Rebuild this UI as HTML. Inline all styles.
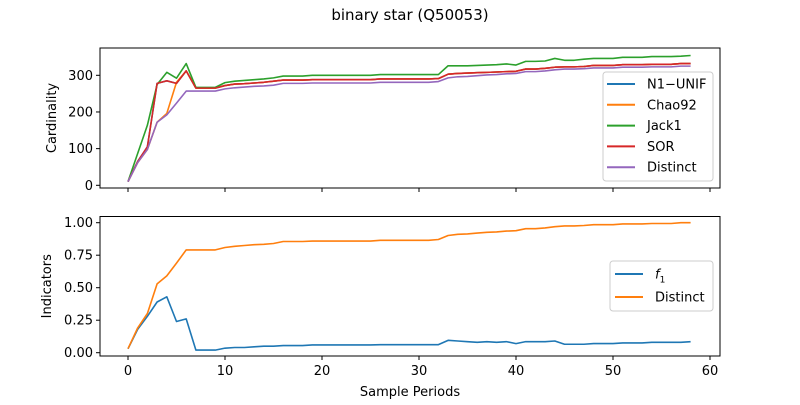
<!DOCTYPE html>
<html><head><meta charset="utf-8"><style>
body{margin:0;background:#fff;font-family:"Liberation Sans","DejaVu Sans",sans-serif;}
svg text{font-family:"DejaVu Sans","Liberation Sans",sans-serif;font-size:13px;fill:#000;}
</style></head><body>
<svg id="chart" width="800" height="400" viewBox="0 0 800 400">
<rect width="800" height="400" fill="#fff"/>
<text x="410" y="20" text-anchor="middle" style="font-size:15px">binary star (Q50053)</text>
<g id="top"></g><g id="bot"></g>
</svg>
<script>
const periods = Array.from({length:59},(_,i)=>i);
const distinct = [10,62,98,172,192,224,257,257,257,257,263,266,268,270,271,273,278,278,278,279,279,279,279,279,279,279,281,281,281,281,281,281,283,293,296,297,299,301,302,304,305,310,310,312,315,317,317,318,320,320,320,322,322,322,323,323,323,325,325];
const sor = [10,65,105,278,285,278,312,265,265,265,272,276,277,279,281,284,287,287,287,288,288,288,288,288,288,288,290,290,290,290,290,290,291,303,305,306,307,308,309,310,311,317,317,319,322,323,323,324,327,327,327,329,329,329,330,330,330,332,332];
const n1unif = sor.slice();
const chao92 = [10,62,98,172,196,281,312,265,265,265,272,276,277,279,281,284,287,287,287,288,288,288,288,288,288,288,290,290,290,290,290,290,291,303,305,306,307,308,309,310,311,317,317,319,322,323,323,324,327,327,327,329,329,329,330,330,330,332,332];
const jack1 = [10,87,164,275,308,292,332,267,267,267,280,284,286,288,290,293,298,298,298,300,300,300,300,300,300,300,302,302,302,302,302,302,302,326,326,326,327,328,329,331,328,338,338,339,346,341,341,344,346,346,346,349,349,349,351,351,351,352,354];
const f1 = [0.03,0.18,0.28,0.39,0.43,0.24,0.26,0.02,0.02,0.02,0.035,0.04,0.04,0.045,0.05,0.05,0.055,0.055,0.055,0.06,0.06,0.06,0.06,0.06,0.06,0.06,0.062,0.062,0.062,0.062,0.062,0.062,0.062,0.095,0.09,0.085,0.08,0.085,0.08,0.085,0.07,0.085,0.085,0.085,0.09,0.065,0.065,0.065,0.07,0.07,0.07,0.075,0.075,0.075,0.08,0.08,0.08,0.08,0.085];
const distinctFrac = distinct.map(v=>v/Math.max(...distinct));
const xTicks = [0,10,20,30,40,50,60];
const topTicks = [0,100,200,300];
const botTicks = ["0.00","0.25","0.50","0.75","1.00"];

const NS="http://www.w3.org/2000/svg";
function el(parent,tag,attrs,text){const e=document.createElementNS(NS,tag);for(const k in attrs)e.setAttribute(k,attrs[k]);if(text!==undefined)e.textContent=text;parent.appendChild(e);return e;}
const L=100,R=720;
const xs=v=>128+(v-0)*(710-128)/60;
function panel(g,top,bottom,ys,ticks,tickFmt,ylabel,series,legend,name){
  el(g,'rect',{x:L,y:top,width:R-L,height:bottom-top,fill:'none',stroke:'#000','stroke-width':1});
  xTicks.forEach(t=>{const l=el(g,'line',{x1:xs(t),x2:xs(t),y1:bottom,y2:bottom+4,stroke:'#000'});
    });
  ticks.forEach(t=>{const y=ys(+t);el(g,'line',{x1:L-4,x2:L,y1:y,y2:y,stroke:'#000'});
    const tx=el(g,'text',{x:L-7,y:y+4.5,'text-anchor':'end'},tickFmt(t));
    });
  const yl=el(g,'text',{x:0,y:0,'text-anchor':'middle',transform:`translate(${name==='top'?56:51},${(top+bottom)/2}) rotate(-90)`},ylabel);
  
  series.forEach(s=>{const p=el(g,'polyline',{points:s.d.map((v,i)=>xs(periods[i])+','+ys(v)).join(' '),fill:'none',stroke:s.c,'stroke-width':1.6,'stroke-linejoin':'round'});
    });
  const lg=el(g,'g',{});
  
  el(lg,'rect',{x:legend.x,y:legend.y,width:legend.w,height:legend.h,rx:3,fill:'#fff','fill-opacity':0.8,stroke:'#ccc'});
  series.forEach((s,i)=>{const y=legend.y0+i*legend.dy;
    el(lg,'line',{x1:legend.lx,x2:legend.lx+28,y1:y,y2:y,stroke:s.c,'stroke-width':2});
    const t=el(lg,'text',{x:legend.lx+40,y:y+4.5});
    if(s.n==='f1'){t.textContent='f';t.setAttribute('font-style','italic');el(t,'tspan',{dy:4,style:'font-size:9px','font-style':'normal'},'1');}
    else t.textContent=s.n;
    });
}
panel(document.getElementById('top'),48,188,v=>185.3-v*(185.3-75.3)/300,topTicks,t=>String(t),'Cardinality',
 [{n:'N1\u2212UNIF',d:n1unif,c:'#1f77b4'},{n:'Chao92',d:chao92,c:'#ff7f0e'},{n:'Jack1',d:jack1,c:'#2ca02c'},{n:'SOR',d:sor,c:'#d62728'},{n:'Distinct',d:distinct,c:'#9467bd'}],
 {x:603,y:72,w:110,h:109,y0:84,dy:20.8,lx:607},'top');
panel(document.getElementById('bot'),216.5,356,v=>352.7-v*130,botTicks,t=>t,'Indicators',
 [{n:'f1',d:f1,c:'#1f77b4'},{n:'Distinct',d:distinctFrac,c:'#ff7f0e'}],
 {x:610,y:261,w:103,h:50,y0:274,dy:23,lx:615},'bottom');
const bg=document.getElementById('bot');
xTicks.forEach(t=>{const tx=el(bg,'text',{x:xs(t),y:375,'text-anchor':'middle'},String(t));
  });
const xt=el(bg,'text',{x:410,y:396,'text-anchor':'middle'},'Sample Periods');

</script>
</body></html>
